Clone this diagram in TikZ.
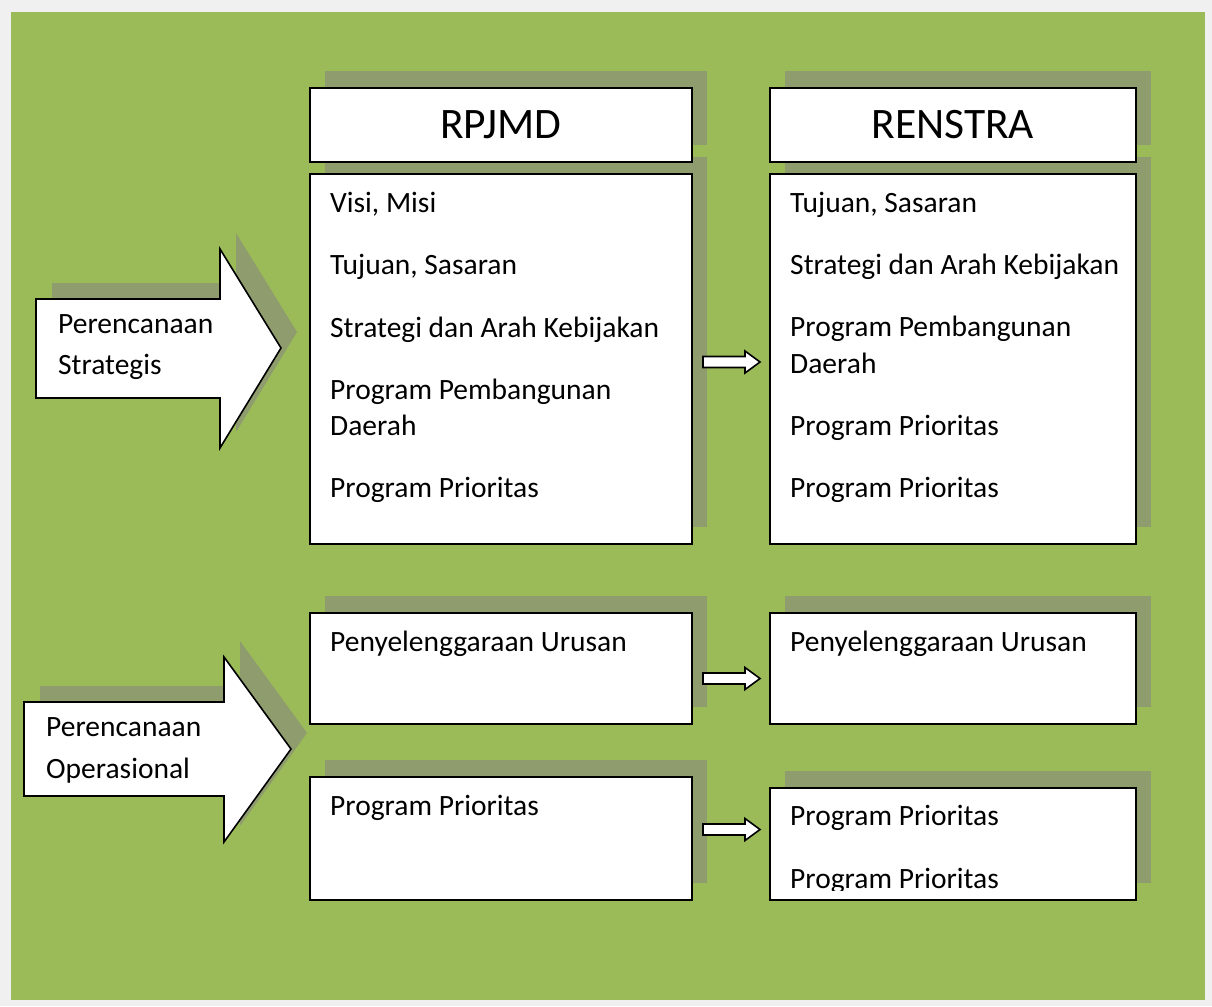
\documentclass[tikz,border=0pt]{standalone}
\usepackage{fontspec}
\setmainfont{Carlito}
\definecolor{bggreen}{RGB}{155,187,89}
\definecolor{shadecol}{RGB}{143,156,109}
\definecolor{outercol}{RGB}{240,240,240}
\newcommand\blockarr[1]{\draw[arrline] (#1) ++(0,-5.5) -- ++(42,0) -- ++(0,-5.5) -- ++(15,11) -- ++(-15,11) -- ++(0,-5.5) -- ++(-42,0) -- cycle;}
\begin{document}
\begin{tikzpicture}[x=1pt,y=-1pt,
  boxst/.style={draw=black, line width=1.6pt, fill=white, inner sep=0pt},
  shadowst/.style={fill=shadecol},
  arrline/.style={draw=black, line width=1.6pt, fill=white, line join=miter},
  txt/.style={anchor=base west, inner sep=0pt, font=\fontsize{29.5}{36}\selectfont},
  head/.style={inner sep=0pt, font=\fontsize{43.5}{50}\selectfont}]
% background
\fill[outercol] (0,0) rectangle (1212,1006);
\useasboundingbox (0,0) rectangle (1212,1006);
\fill[bggreen] (11,12) rectangle (1205,1000);
% shadows
\begin{scope}[shift={(16,-16)}]
  \fill[shadowst] (309,87) rectangle (691,161);
  \fill[shadowst] (769,87) rectangle (1135,161);
  \fill[shadowst] (309,173) rectangle (691,543);
  \fill[shadowst] (769,173) rectangle (1135,543);
  \fill[shadowst] (309,612) rectangle (691,723);
  \fill[shadowst] (769,612) rectangle (1135,723);
  \fill[shadowst] (309,776) rectangle (691,899);
  \fill[shadowst] (769,787) rectangle (1135,899);
  \fill[shadowst] (36,299) -- (220,299) -- (220,249) -- (281,348) -- (220,448) -- (220,398) -- (36,398) -- cycle;
  \fill[shadowst] (24,702) -- (224,702) -- (224,657) -- (291,749) -- (224,842) -- (224,796) -- (24,796) -- cycle;
\end{scope}
% boxes
\node[boxst, anchor=north west, minimum width=382, minimum height=74] (rh) at (309,87) {};
\node[boxst, anchor=north west, minimum width=366, minimum height=74] (sh) at (769,87) {};
\node[boxst, anchor=north west, minimum width=382, minimum height=370] (rc) at (309,173) {};
\node[boxst, anchor=north west, minimum width=366, minimum height=370] (sc) at (769,173) {};
\node[boxst, anchor=north west, minimum width=382, minimum height=111] (r2) at (309,612) {};
\node[boxst, anchor=north west, minimum width=366, minimum height=111] (s2) at (769,612) {};
\node[boxst, anchor=north west, minimum width=382, minimum height=123] (r3) at (309,776) {};
\node[boxst, anchor=north west, minimum width=366, minimum height=112] (s3) at (769,787) {};
% big arrows
\draw[arrline] (36,299) -- (220,299) -- (220,249) -- (281,348) -- (220,448) -- (220,398) -- (36,398) -- cycle;
\draw[arrline] (24,702) -- (224,702) -- (224,657) -- (291,749) -- (224,842) -- (224,796) -- (24,796) -- cycle;
\node[txt] (a1a) at (58,333) {Perencanaan};
\node[txt] (a1b) at (58,374) {Strategis};
\node[txt] (a2a) at (46,736) {Perencanaan};
\node[txt] (a2b) at (46,778) {Operasional};
% small arrows
\coordinate (c1) at (703,362);
\coordinate (c2) at (703,678.5);
\coordinate (c3) at (703,829.5);
\blockarr{c1}
\blockarr{c2}
\blockarr{c3}
% headers
\node[head] (rht) at (rh.center) {RPJMD};
\node[head] (sht) at (sh.center) {RENSTRA};
% RPJMD content
\node[txt] (r1) at (330,212) {Visi, Misi};
\node[txt] (r2t) at (330,274) {Tujuan, Sasaran};
\node[txt] (r3t) at (330,337) {Strategi dan Arah Kebijakan};
\node[txt] (r4) at (330,399) {Program Pembangunan};
\node[txt] (r5) at (330,435) {Daerah};
\node[txt] (r6) at (330,497) {Program Prioritas};
% RENSTRA content
\node[txt] (s1) at (790,212) {Tujuan, Sasaran};
\node[txt] (s2t) at (790,274) {Strategi dan Arah Kebijakan};
\node[txt] (s3t) at (790,336) {Program Pembangunan};
\node[txt] (s4) at (790,373) {Daerah};
\node[txt] (s5) at (790,435) {Program Prioritas};
\node[txt] (s6) at (790,497) {Program Prioritas};
% row 2
\node[txt] (u1) at (330,651) {Penyelenggaraan Urusan};
\node[txt] (u2) at (790,651) {Penyelenggaraan Urusan};
% row 3
\node[txt] (p1) at (330,815) {Program Prioritas};
\node[txt] (p2) at (790,825) {Program Prioritas};
\begin{scope}
  \clip (769,787) rectangle (1135,890);
  \node[txt] (p3) at (790,888) {Program Prioritas};
\end{scope}
\end{tikzpicture}
\end{document}
